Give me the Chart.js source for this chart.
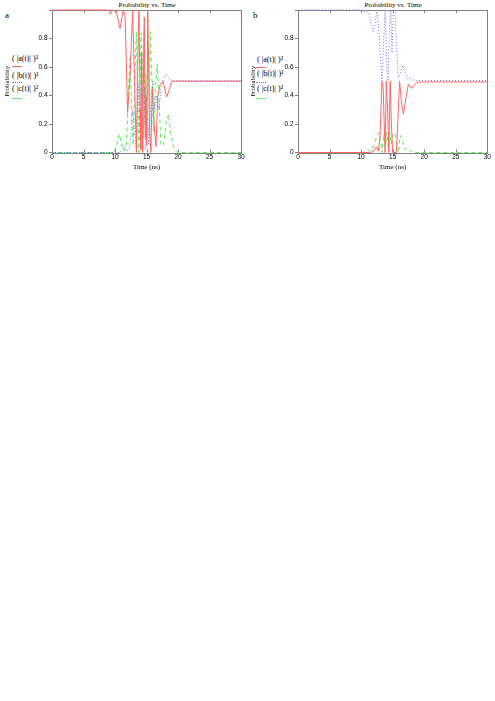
<!DOCTYPE html>
<html>
<head>
<meta charset="utf-8">
<script src="https://cdn.jsdelivr.net/npm/chart.js@4"></script>
<style>
  body { margin: 0; background: #fff; width: 495px; height: 701px; position: relative; font-family: 'Liberation Serif', serif; color: #000; }
  canvas { position: absolute; top: 0; }
  .lbl { position: absolute; font-size: 9px; line-height: 10px; }
  .title { position: absolute; font-size: 7px; line-height: 8px; white-space: nowrap; transform: translateX(-50%); }
  .leg { position: absolute; font-size: 8px; line-height: 8px; white-space: nowrap; }
  .sw { position: absolute; width: 10px; height: 0; }
</style>
</head>
<body>
<div class="lbl" style="left:5px;top:10px">a</div>
<div class="lbl" style="left:253px;top:10px">b</div>
<div class="title" style="left:147px;top:1px">Probability vs. Time</div>
<div class="title" style="left:393px;top:1px">Probability vs. Time</div>

<div class="leg" style="left:12px;top:55px">( |a(t)| )²</div>
<div class="sw" style="left:12px;top:66px;border-top:1px solid #ff6666"></div>
<div class="leg" style="left:12px;top:72px">( |b(t)| )²</div>
<div class="sw" style="left:12px;top:82px;border-top:1px dotted #6f6fff"></div>
<div class="leg" style="left:12px;top:85px">( |c(t)| )²</div>
<div class="sw" style="left:12px;top:98px;border-top:1px dashed #55ee55"></div>

<div class="leg" style="left:257px;top:56px">( |a(t)| )²</div>
<div class="sw" style="left:256px;top:67px;border-top:1px solid #ff6666"></div>
<div class="leg" style="left:257px;top:70px">( |b(t)| )²</div>
<div class="sw" style="left:256px;top:82px;border-top:1px dotted #6f6fff"></div>
<div class="leg" style="left:257px;top:85px">( |c(t)| )²</div>
<div class="sw" style="left:256px;top:98px;border-top:1px dashed #55ee55"></div>

<canvas id="chartA" width="246" height="175" style="left:0"></canvas>
<canvas id="chartB" width="249" height="175" style="left:246px"></canvas>

<script>
// panel a
const tA_red = [0, 9, 9.3, 9.6, 10.2, 10.8, 11.3, 11.6, 12.0, 12.4, 12.8, 13.1, 13.4, 13.6, 13.8, 14.0, 14.1, 14.25, 14.4, 14.5, 14.65, 14.8, 14.9, 15.05, 15.2, 15.35, 15.5, 15.7, 15.9, 16.2, 16.5, 16.8, 17.2, 17.6, 18.2, 18.6, 19.0, 19.5, 30]
const pA_red = [1, 1, 0.97, 1, 0.99, 0.87, 1, 0.96, 0.28, 0.55, 1, 0.5, 0, 0.6, 1, 0.3, 0.02, 0.7, 0, 0.45, 0.95, 0.1, 0.4, 0.05, 1, 0.6, 0.15, 0, 0.45, 0.2, 0.04, 0.4, 0.48, 0.5, 0.39, 0.44, 0.5, 0.5, 0.5]

const tA_blue = [0, 10.8, 11.2, 11.5, 11.8, 12.2, 12.5, 12.8, 13.1, 13.4, 13.7, 13.9, 14.1, 14.3, 14.5, 14.7, 14.9, 15.1, 15.4, 15.7, 16.0, 16.3, 16.6, 17.0, 17.3, 17.6, 18.0, 18.4, 18.8, 19.3, 30]
const pA_blue = [0, 0, 0.02, 0.04, 0.01, 0.02, 0.1, 0.3, 0.15, 0.02, 0.48, 0.2, 0.05, 0.4, 0.1, 0.45, 0.02, 0.3, 0.05, 0.35, 0.5, 0.3, 0.4, 0.3, 0.45, 0.5, 0.55, 0.53, 0.51, 0.505, 0.505]

const tA_green = [0, 9.8, 10.3, 10.7, 11.1, 11.4, 11.8, 12.1, 12.4, 12.7, 12.9, 13.2, 13.4, 13.6, 13.8, 14.0, 14.15, 14.3, 14.45, 14.6, 14.75, 14.9, 15.0, 15.15, 15.3, 15.45, 15.6, 15.75, 15.9, 16.1, 16.4, 16.7, 17.0, 17.3, 17.7, 18.1, 18.5, 18.8, 19.2, 19.6, 20, 30]
const pA_green = [0, 0, 0.06, 0.13, 0.05, 0.01, 0.05, 0.4, 0.68, 0.2, 0.05, 0.6, 0.85, 0.4, 0, 0.5, 0.84, 0.3, 0.6, 0.84, 0.2, 0.55, 0.1, 0.5, 0.7, 0.3, 0.85, 0.6, 0.5, 0.15, 0.45, 0.62, 0.35, 0.05, 0.05, 0.2, 0.27, 0.15, 0.05, 0.01, 0, 0]

// panel b
const tB_red = [0, 11.5, 12.0, 12.4, 12.7, 13.0, 13.3, 13.5, 13.8, 14.0, 14.2, 14.4, 14.6, 14.8, 15.0, 15.6, 15.9, 16.1, 16.4, 16.7, 17.1, 17.5, 18.0, 18.4, 18.8, 19.2, 30]
const pB_red = [0, 0, 0.01, 0.04, 0.01, 0.1, 0.5, 0.45, 0, 0.5, 0.3, 0, 0.5, 0.2, 0, 0, 0.3, 0.5, 0.35, 0.27, 0.38, 0.48, 0.45, 0.47, 0.49, 0.495, 0.495]

const tB_blue = [0, 10, 10.5, 11.2, 11.6, 11.9, 12.2, 12.5, 12.9, 13.3, 13.6, 13.8, 14.1, 14.3, 14.5, 14.7, 14.9, 15.1, 15.4, 15.6, 15.9, 16.2, 16.6, 17.0, 17.4, 17.8, 18.3, 18.8, 30]
const pB_blue = [1, 1, 0.99, 0.98, 0.9, 0.85, 0.9, 1, 0.8, 0.5, 0.8, 1, 0.55, 0.5, 0.9, 1, 0.7, 0.98, 1, 0.75, 0.52, 0.55, 0.61, 0.56, 0.52, 0.52, 0.51, 0.505, 0.505]

const tB_green = [0, 10.3, 11.0, 11.5, 12.0, 12.4, 12.8, 13.1, 13.3, 13.6, 13.9, 14.1, 14.3, 14.5, 14.8, 15.1, 15.4, 15.7, 15.9, 16.2, 16.6, 17.0, 17.4, 17.9, 18.5, 30]
const pB_green = [0, 0, 0.02, 0.01, 0.05, 0.1, 0.14, 0.08, 0, 0.13, 0.05, 0.14, 0.02, 0.14, 0.06, 0.13, 0.14, 0.06, 0, 0.12, 0.08, 0.02, 0.03, 0.01, 0, 0]

const xTicks = [0, 5, 10, 15, 20, 25, 30]
const yTicks = [0, 0.2, 0.4, 0.6, 0.8, 1]

const RED = '#ff6666'
const BLUE = '#6f6fff'
const GREEN = '#55ee55'
const FRAME = '#808080'

function pts (ts, ps) {
  return ts.map((t, i) => ({ x: t, y: ps[i] }))
}

// gray box round the plot plus small inward ticks on top and bottom
const framePlugin = {
  id: 'frame',
  beforeDatasetsDraw (chart) {
    const { ctx, chartArea: a, scales } = chart
    ctx.save()
    ctx.strokeStyle = FRAME
    ctx.lineWidth = 1
    ctx.strokeRect(Math.round(a.left) + 0.5, Math.round(a.top) + 0.5, Math.round(a.right - a.left), Math.round(a.bottom - a.top))
    ctx.beginPath()
    xTicks.forEach(v => {
      const px = Math.round(scales.x.getPixelForValue(v)) + 0.5
      ctx.moveTo(px, a.bottom)
      ctx.lineTo(px, a.bottom - 3)
      ctx.moveTo(px, a.top)
      ctx.lineTo(px, a.top + 3)
    })
    ctx.stroke()
    ctx.restore()
  }
}

function makeChart (id, series, rightPad) {
  const [red, blue, green] = series
  return new Chart(document.getElementById(id), {
    type: 'line',
    data: {
      datasets: [
        { label: '(|a(t)|)²', data: red, borderColor: RED, borderWidth: 1 },
        { label: '(|b(t)|)²', data: blue, borderColor: BLUE, borderWidth: 1, borderDash: [1, 2] },
        { label: '(|c(t)|)²', data: green, borderColor: GREEN, borderWidth: 1, borderDash: [4, 3] }
      ]
    },
    options: {
      responsive: false,
      animation: false,
      devicePixelRatio: 1,
      elements: { point: { radius: 0 }, line: { tension: 0 } },
      datasets: { line: { clip: 1 } },
      layout: { padding: { top: 10, right: rightPad, left: 0, bottom: 0 } },
      plugins: { legend: { display: false }, tooltip: { enabled: false } },
      scales: {
        x: {
          type: 'linear',
          min: 0,
          max: 30,
          afterBuildTicks: s => { s.ticks = xTicks.map(v => ({ value: v })) },
          afterFit: s => { s.height = 22.5 },
          grid: { display: false, drawTicks: false },
          border: { display: false },
          ticks: { padding: 1, maxRotation: 0, color: '#000', font: { family: 'Liberation Sans', size: 6.5 } },
          title: { display: true, text: 'Time (ns)', color: '#000', padding: { top: 0, bottom: 4 }, font: { family: 'Liberation Serif', size: 7 } }
        },
        y: {
          min: 0,
          max: 1,
          afterBuildTicks: s => { s.ticks = yTicks.map(v => ({ value: v })) },
          afterFit: s => { s.width = 52 },
          grid: { drawOnChartArea: false, drawTicks: true, tickLength: 3, color: FRAME },
          border: { display: false },
          ticks: {
            padding: 1.5,
            color: '#000',
            font: { family: 'Liberation Sans', size: 6.5 },
            callback: v => v >= 1 ? '' : String(Math.round(v * 10) / 10)
          },
          title: { display: true, text: 'Probability', color: '#000', padding: { top: 3, bottom: 0 }, font: { family: 'Liberation Serif', size: 7 } }
        }
      }
    },
    plugins: [framePlugin]
  })
}

makeChart('chartA', [pts(tA_red, pA_red), pts(tA_blue, pA_blue), pts(tA_green, pA_green)], 5)
makeChart('chartB', [pts(tB_red, pB_red), pts(tB_blue, pB_blue), pts(tB_green, pB_green)], 7.7)
</script>
</body>
</html>
